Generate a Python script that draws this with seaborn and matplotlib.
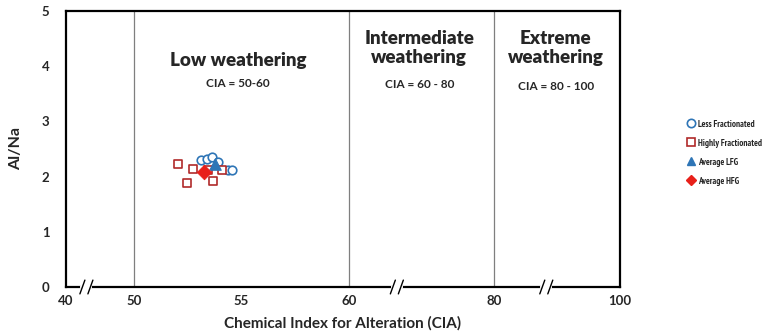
import numpy as np
import pandas as pd
import matplotlib
matplotlib.use("Agg")
import matplotlib.pyplot as plt
import matplotlib.transforms as mtransforms
from matplotlib.lines import Line2D
from matplotlib import font_manager
from matplotlib.font_manager import FontProperties
import seaborn as sns

# CIA vs Al/Na for the two granite groups
lfg_cia = [53.12, 53.40, 53.63, 53.90, 54.37, 54.56]
lfg_alna = [2.30, 2.31, 2.36, 2.26, 2.12, 2.12]
hfg_cia = [52.05, 52.74, 52.47, 53.67, 54.09, 53.45]
hfg_alna = [2.23, 2.14, 1.88, 1.92, 2.12, 2.12]
avg_lfg = (53.77, 2.23)
avg_hfg = (53.26, 2.08)

# broken CIA axis: segment breakpoints and their relative lengths
axis_breaks = [40, 50, 60, 80, 100]
axis_lengths = [0, 68, 283, 428, 554]
xtick_values = [40, 50, 55, 60, 80, 100]
break_marks = [43.0, 66.6, 88.3]
zone_lines = [50, 60, 80]

blue = "#2E75B6"
red_edge = "#B02A2A"
red_fill = "#E8201A"

sns.set_theme(style="white")
plt.rcParams["font.family"] = ["Lato", "DejaVu Sans"]
plt.rcParams["font.weight"] = "bold"


def narrow_bold_font():
    """Pick a condensed bold sans face for the tight legend, if one exists."""
    found = []
    for f in font_manager.fontManager.ttflist:
        fname = f.fname.lower()
        narrow = ("condensed" in fname or "narrow" in fname
                  or str(f.stretch) in ("condensed", "semi-condensed", "extra-condensed"))
        bold = "bold" in fname and "extrabold" not in fname and "semibold" not in fname
        italic = "italic" in fname
        if narrow and bold and not italic and "mono" not in fname and "serif" not in fname.replace("sans", ""):
            found.append(f.fname)
    for key in ("narrow", "notosans-condensedbold", "notosans-condensed", "condensed"):
        for path in found:
            if key in path.lower():
                return FontProperties(fname=path)
    return None


legend_font = narrow_bold_font()
if legend_font is not None:
    legend_font.set_size(6.6)
else:
    legend_font = FontProperties(family="Lato", weight="bold", size=5.6)

fig = plt.figure(figsize=(7.64, 3.33), dpi=100)
ax = fig.add_axes([66 / 764, 46 / 333, 554 / 764, 276 / 333])


def fwd(x):
    return np.interp(x, axis_breaks, axis_lengths)


def inv(p):
    return np.interp(p, axis_lengths, axis_breaks)


ax.set_xscale("function", functions=(fwd, inv))
ax.set_xlim(40, 100)
ax.set_ylim(0, 5)

for z in zone_lines:
    ax.axvline(z, color="#7F7F7F", lw=0.9, zorder=1)

lfg = pd.DataFrame({"cia": lfg_cia, "alna": lfg_alna})
hfg = pd.DataFrame({"cia": hfg_cia, "alna": hfg_alna})
sns.scatterplot(data=lfg, x="cia", y="alna", ax=ax, marker="o", s=38,
                facecolor="white", edgecolor=blue, linewidth=1.2, zorder=3)
sns.scatterplot(data=hfg, x="cia", y="alna", ax=ax, marker="s", s=36,
                facecolor="white", edgecolor=red_edge, linewidth=1.2, zorder=3)
sns.scatterplot(x=[avg_lfg[0]], y=[avg_lfg[1]], ax=ax, marker="^", s=70,
                color=blue, edgecolor=blue, zorder=4)
sns.scatterplot(x=[avg_hfg[0]], y=[avg_hfg[1]], ax=ax, marker="D", s=55,
                color=red_fill, edgecolor=red_fill, zorder=5)

ax.set_xticks(xtick_values)
ax.set_xticklabels([str(v) for v in xtick_values], fontsize=9.5, fontweight="bold")
ax.set_yticks(range(6))
ax.set_yticklabels([str(v) for v in range(6)], fontsize=9.5, fontweight="bold")
ax.tick_params(axis="y", direction="out", length=3, width=0.8, color="#555555", pad=9)
ax.tick_params(axis="x", length=0, pad=6)
for sp in ax.spines.values():
    sp.set_color("black")
    sp.set_linewidth(1.6)

ax.set_xlabel("Chemical Index for Alteration (CIA)", fontsize=11, fontweight="bold", labelpad=6)
ax.set_ylabel("Al/Na", fontsize=11.5, fontweight="bold", labelpad=13)

# axis break marks
trans = mtransforms.blended_transform_factory(ax.transData, ax.transAxes)
for b in break_marks:
    p = fwd(b)
    lo, hi = inv(p - 4), inv(p + 4)
    ax.plot([lo, hi], [0, 0], transform=trans, color="white", lw=3, clip_on=False, zorder=6)
    for q in (p - 4, p + 4):
        xa, xb = inv(q - 2.5), inv(q + 2.5)
        ax.plot([xa, xb], [-0.025, 0.025], transform=trans, color="black", lw=1.0,
                clip_on=False, zorder=7)

# weathering zone annotations
ax.text(54.84, 4.11, "Low weathering", ha="center", va="center", fontsize=13.5, fontweight="heavy")
ax.text(54.84, 3.68, "CIA = 50-60", ha="center", va="center", fontsize=8.5, fontweight="bold")
ax.text(69.7, 4.33, "Intermediate\nweathering", ha="center", va="center", fontsize=13.5,
        fontweight="heavy", linespacing=1.2)
ax.text(69.7, 3.66, "CIA = 60 - 80", ha="center", va="center", fontsize=8.5, fontweight="bold")
ax.text(89.8, 4.33, "Extreme\nweathering", ha="center", va="center", fontsize=13.5,
        fontweight="heavy", linespacing=1.2)
ax.text(89.8, 3.64, "CIA = 80 - 100", ha="center", va="center", fontsize=8.5, fontweight="bold")

handles = [
    Line2D([], [], ls="", marker="o", mfc="white", mec=blue, mew=1.2, ms=6),
    Line2D([], [], ls="", marker="s", mfc="white", mec=red_edge, mew=1.2, ms=6),
    Line2D([], [], ls="", marker="^", mfc=blue, mec=blue, ms=6),
    Line2D([], [], ls="", marker="D", mfc=red_fill, mec=red_fill, ms=5),
]
labels = ["Less Fractionated", "Highly Fractionated", "Average LFG", "Average HFG"]
fig.legend(handles, labels, loc="upper left", bbox_to_anchor=(683 / 764, 1 - 115 / 333),
           frameon=False, handlelength=0.8, handletextpad=0.35,
           labelspacing=1.09, borderpad=0, prop=legend_font)

fig.savefig("out.png", dpi=100)
